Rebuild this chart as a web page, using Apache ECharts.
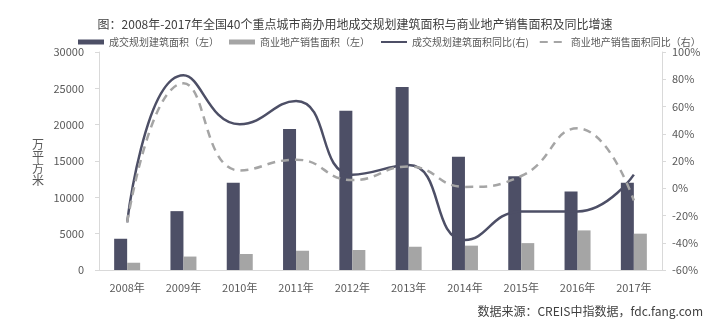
<!DOCTYPE html>
<html>
<head>
<meta charset="utf-8">
<script src="https://cdn.jsdelivr.net/npm/echarts@6/dist/echarts.min.js"></script>
<style>
html,body{margin:0;padding:0;background:#fff;}
#main{width:710px;height:327px;}
</style>
</head>
<body>
<div id="main"></div>
<script>
const categories = ['2008年','2009年','2010年','2011年','2012年','2013年','2014年','2015年','2016年','2017年'];
const landArea = [4300, 8100, 12000, 19400, 21900, 25200, 15600, 12900, 10800, 12000];
const salesArea = [1000, 1850, 2200, 2650, 2750, 3200, 3350, 3700, 5450, 5000];
const landYoY = [-25, 83, 47, 64, 10, 17, -38, -17, -17, 10];
const salesYoY = [-25, 77, 13, 21, 6, 16, 1, 9, 44, -9];
const leftTicks = [0, 5000, 10000, 15000, 20000, 25000, 30000];
const rightTicks = [-60, -40, -20, 0, 20, 40, 60, 80, 100];

const FONT = '"Noto Sans CJK SC", "Noto Sans", sans-serif';
const DARK = '#4d4f66';
const LIGHT = '#a5a5a5';
const chart = echarts.init(document.getElementById('main'));
chart.setOption({
  backgroundColor: '#fff',
  animation: false,
  textStyle: { fontFamily: FONT },
  title: {
    text: '图：2008年-2017年全国40个重点城市商办用地成交规划建筑面积与商业地产销售面积及同比增速',
    left: 'center', top: 13,
    textStyle: { fontSize: 12, fontWeight: 'normal', color: '#404040', fontFamily: FONT }
  },
  legend: {
    top: 32, left: 73, width: 636, itemGap: 10, itemWidth: 26, itemHeight: 5,
    textStyle: { fontSize: 10, color: '#595959', fontFamily: FONT },
    data: [
      { name: '成交规划建筑面积（左）', icon: 'rect' },
      { name: '商业地产销售面积（左）', icon: 'rect' },
      { name: '成交规划建筑面积同比(右)', itemStyle: { opacity: 0 } },
      { name: '商业地产销售面积同比（右）', itemStyle: { opacity: 0 } }
    ]
  },
  grid: { left: 99, right: 48, top: 52, bottom: 57 },
  xAxis: {
    type: 'category', data: categories,
    axisLine: { lineStyle: { color: '#d9d9d9' } },
    axisTick: { show: false },
    axisLabel: { color: '#595959', fontSize: 11, margin: 12, fontFamily: FONT }
  },
  yAxis: [
    {
      type: 'value', min: leftTicks[0], max: leftTicks[leftTicks.length-1], interval: 5000,
      axisLine: { show: true, lineStyle: { color: '#d9d9d9' } },
      axisTick: { show: true, length: 4, lineStyle: { color: '#d9d9d9' } },
      splitLine: { show: false },
      axisLabel: { color: '#595959', fontSize: 11, margin: 15, fontFamily: FONT, formatter: v => String(v) }
    },
    {
      type: 'value', min: rightTicks[0], max: rightTicks[rightTicks.length-1], interval: 20,
      axisLine: { show: true, lineStyle: { color: '#d9d9d9' } },
      axisTick: { show: true, length: 4, lineStyle: { color: '#d9d9d9' } },
      splitLine: { show: false },
      axisLabel: { color: '#595959', fontSize: 11, margin: 10, formatter: '{value}%', fontFamily: FONT }
    }
  ],
  series: [
    {
      name: '成交规划建筑面积（左）', type: 'bar', data: landArea,
      barWidth: 13, barGap: '0%', itemStyle: { color: DARK }
    },
    {
      name: '商业地产销售面积（左）', type: 'bar', data: salesArea,
      barWidth: 13, itemStyle: { color: LIGHT }
    },
    {
      name: '成交规划建筑面积同比(右)', type: 'line', yAxisIndex: 1, data: landYoY,
      smooth: true, symbol: 'none', itemStyle: { color: DARK },
      lineStyle: { color: DARK, width: 2.5 }
    },
    {
      name: '商业地产销售面积同比（右）', type: 'line', yAxisIndex: 1, data: salesYoY,
      smooth: true, symbol: 'none', itemStyle: { color: LIGHT },
      lineStyle: { color: LIGHT, width: 2.5, type: [8, 6] }
    }
  ],
  graphic: [
    {
      type: 'text', left: 32, top: 138,
      style: { text: '万\n平\n方\n米', lineHeight: 12, fill: '#595959', font: '12px ' + FONT }
    },
    {
      type: 'text', right: 7, top: 305,
      style: { text: '数据来源：CREIS中指数据，fdc.fang.com', fill: '#404040', font: '12px ' + FONT }
    }
  ]
});
</script>
</body>
</html>
